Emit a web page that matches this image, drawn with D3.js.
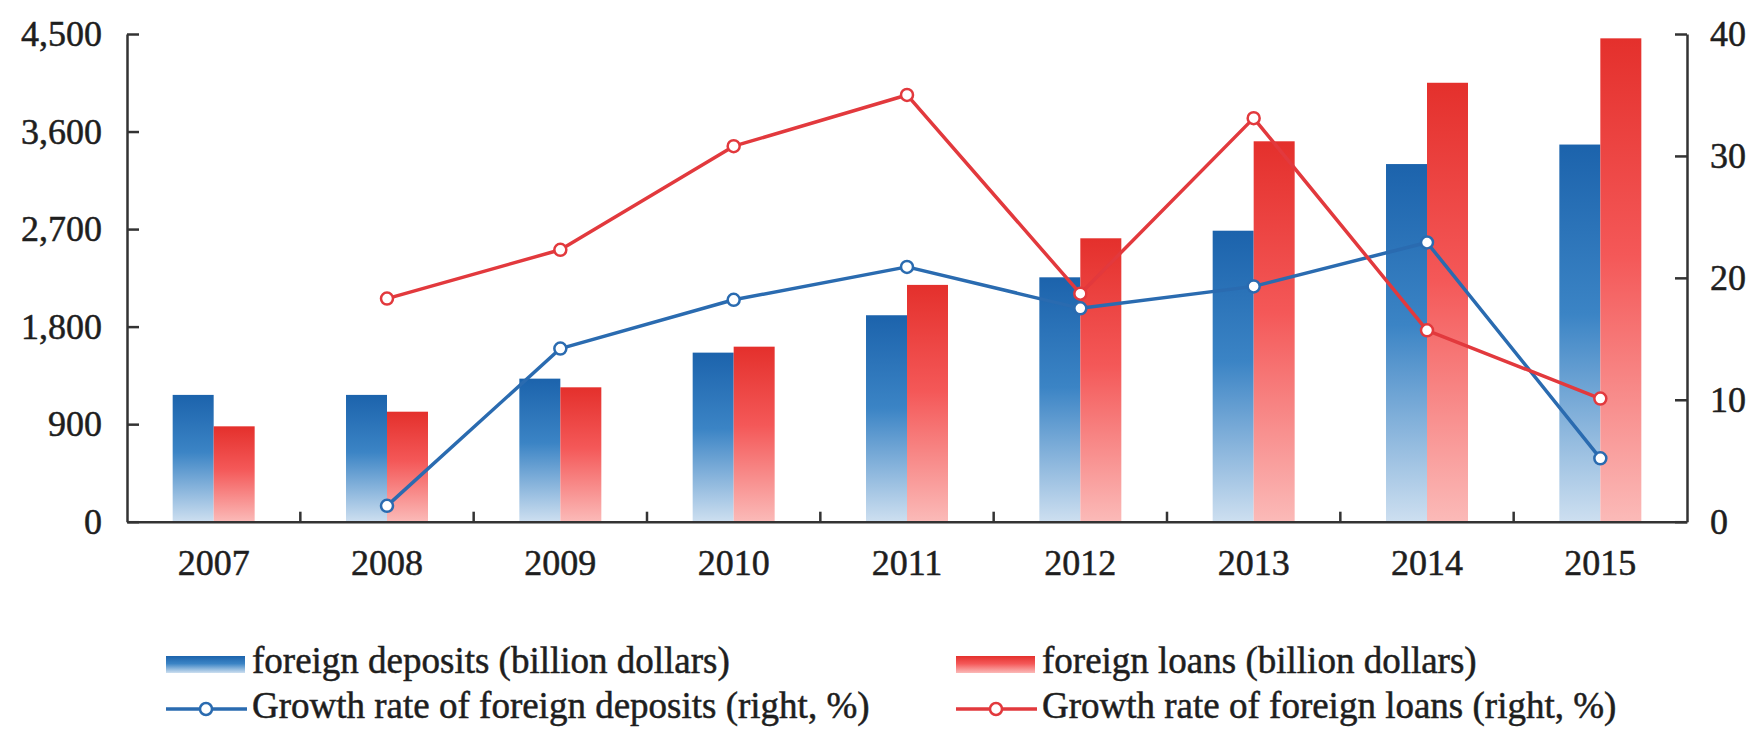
<!DOCTYPE html>
<head>
  <title>Foreign deposits and loans 2007 - 2015</title>
  <meta charset="utf-8">
  <script type="text/javascript" src="https://d3js.org/d3.v7.min.js"></script>
  <style>
    body { margin: 0; background: #fff; }
    text { font-family: "Liberation Serif", "Times New Roman", serif; fill: #1e1e1e; stroke: #1e1e1e; stroke-width: 0.5px; }
  </style>
</head>

<body>

<div id="container"></div>

<script>

  // chart data
  let years = ["2007", "2008", "2009", "2010", "2011", "2012", "2013", "2014", "2015"];
  let deposits = [1170, 1170, 1320, 1560, 1905, 2255, 2685, 3300, 3480];
  let loans = [880, 1015, 1240, 1615, 2185, 2615, 3510, 4050, 4460];
  let deposits_growth = [null, 1.3, 14.2, 18.2, 20.9, 17.5, 19.3, 22.9, 5.2];
  let loans_growth = [null, 18.3, 22.3, 30.8, 35.0, 18.7, 33.1, 15.7, 10.1];
  let left_ticks = [0, 900, 1800, 2700, 3600, 4500];
  let right_ticks = [0, 10, 20, 30, 40];
  let legend_labels = [
    "foreign deposits (billion dollars)",
    "foreign loans (billion dollars)",
    "Growth rate of foreign deposits (right, %)",
    "Growth rate of foreign loans (right, %)"
  ];

  let svg_width = 1754;
  let svg_height = 734;

  let plot = {left: 127, right: 1687, top: 34, bottom: 521.7};

  let blue_line = "#2a6bb0";
  let red_line = "#e2393d";
  let axis_color = "#333333";

  let svg = d3.select("#container").append("svg")
          .attr("width", svg_width)
          .attr("height", svg_height)

  // vertical gradients for the bars
  let defs = svg.append("defs");

  let make_gradient = function (id, stops) {
    let g = defs.append("linearGradient")
            .attr("id", id)
            .attr("x1", 0).attr("y1", 0)
            .attr("x2", 0).attr("y2", 1);
    stops.forEach(function (s) {
      g.append("stop").attr("offset", s[0]).attr("stop-color", s[1]);
    });
  }

  make_gradient("blueGrad", [["0%", "#1c63ac"], ["45%", "#3b84c5"], ["100%", "#cddff0"]]);
  make_gradient("redGrad", [["0%", "#e4302c"], ["45%", "#f45858"], ["100%", "#fbbab8"]]);

  let xScale = d3.scaleBand()
          .domain(years)
          .range([plot.left, plot.right])
          .paddingInner(0.527)
          .paddingOuter(0.2635);

  let xSub = d3.scaleBand()
          .domain(["deposits", "loans"])
          .range([0, xScale.bandwidth()]);

  let yLeft = d3.scaleLinear()
          .domain([0, 4500])
          .range([plot.bottom, plot.top]);

  let yRight = d3.scaleLinear()
          .domain([0, 40])
          .range([plot.bottom, plot.top]);

  // bars
  let bar_data = years.map(function (y, i) {
    return {year: y, deposits: deposits[i], loans: loans[i]};
  });

  let groups = svg.selectAll(".group")
          .data(bar_data)
          .enter()
          .append("g")
          .attr("class", "group")
          .attr("transform", function (d) { return "translate(" + xScale(d.year) + ",0)"; });

  groups.append("rect")
          .attr("x", xSub("deposits"))
          .attr("y", function (d) { return yLeft(d.deposits); })
          .attr("width", xSub.bandwidth())
          .attr("height", function (d) { return yLeft(0) - yLeft(d.deposits); })
          .attr("fill", "url(#blueGrad)");

  groups.append("rect")
          .attr("x", xSub("loans"))
          .attr("y", function (d) { return yLeft(d.loans); })
          .attr("width", xSub.bandwidth())
          .attr("height", function (d) { return yLeft(0) - yLeft(d.loans); })
          .attr("fill", "url(#redGrad)");

  // axes
  let left_axis = d3.axisLeft(yLeft)
          .tickValues(left_ticks)
          .tickFormat(d3.format(","))
          .tickSizeInner(-12)
          .tickSizeOuter(0)
          .tickPadding(25);

  let right_axis = d3.axisRight(yRight)
          .tickValues(right_ticks)
          .tickSizeInner(-12)
          .tickSizeOuter(0)
          .tickPadding(23);

  let bottom_axis = d3.axisBottom(xScale)
          .tickSize(0)
          .tickPadding(28);

  let style_axis = function (g) {
    g.select(".domain").attr("stroke", axis_color).attr("stroke-width", 2.5);
    g.selectAll(".tick line").attr("stroke", axis_color).attr("stroke-width", 2.5);
    g.selectAll(".tick text")
            .attr("fill", "#1e1e1e")
            .style("font-family", "'Liberation Serif', 'Times New Roman', serif")
            .style("font-size", "36px");
  }

  svg.append("g")
          .attr("transform", "translate(0," + plot.bottom + ")")
          .call(bottom_axis)
          .call(style_axis);

  svg.append("g")
          .attr("transform", "translate(" + plot.left + ",0)")
          .call(left_axis)
          .call(style_axis);

  svg.append("g")
          .attr("transform", "translate(" + plot.right + ",0)")
          .call(right_axis)
          .call(style_axis);

  // small category separators on the x axis
  let step = xScale.step();
  svg.selectAll(".sep")
          .data(years.slice(1))
          .enter()
          .append("line")
          .attr("class", "sep")
          .attr("x1", function (d) { return xScale(d) - step * xScale.paddingInner() / 2; })
          .attr("x2", function (d) { return xScale(d) - step * xScale.paddingInner() / 2; })
          .attr("y1", plot.bottom)
          .attr("y2", plot.bottom - 10)
          .attr("stroke", axis_color)
          .attr("stroke-width", 2.5);

  // growth lines on the right axis
  let center = function (i) { return xScale(years[i]) + xScale.bandwidth() / 2; };

  let draw_series = function (values, color) {
    let pts = values
            .map(function (v, i) { return {i: i, v: v}; })
            .filter(function (d) { return d.v !== null; });

    svg.append("path")
            .datum(pts)
            .attr("fill", "none")
            .attr("stroke", color)
            .attr("stroke-width", 3.5)
            .attr("stroke-linejoin", "round")
            .attr("d", d3.line()
                    .x(function (d) { return center(d.i); })
                    .y(function (d) { return yRight(d.v); })
            );

    svg.selectAll(null)
            .data(pts)
            .enter()
            .append("circle")
            .attr("cx", function (d) { return center(d.i); })
            .attr("cy", function (d) { return yRight(d.v); })
            .attr("r", 6)
            .attr("fill", "#ffffff")
            .attr("stroke", color)
            .attr("stroke-width", 2.5);
  }

  draw_series(deposits_growth, blue_line);
  draw_series(loans_growth, red_line);

  // legend
  let legend_text_x = [252, 1042];
  let legend_rows = [664, 709];

  let legend = svg.append("g").attr("class", "legend");

  [["url(#blueGrad)", 0], ["url(#redGrad)", 1]].forEach(function (s) {
    let tx = legend_text_x[s[1]];
    legend.append("rect")
            .attr("x", tx - 86)
            .attr("y", legend_rows[0] - 8)
            .attr("width", 79)
            .attr("height", 17)
            .attr("fill", s[0]);

    legend.append("text")
            .attr("x", tx)
            .attr("y", legend_rows[0] + 9)
            .style("font-size", "37px")
            .text(legend_labels[s[1]]);
  });

  [[blue_line, 0], [red_line, 1]].forEach(function (s) {
    let tx = legend_text_x[s[1]];
    legend.append("line")
            .attr("x1", tx - 86)
            .attr("x2", tx - 5)
            .attr("y1", legend_rows[1])
            .attr("y2", legend_rows[1])
            .attr("stroke", s[0])
            .attr("stroke-width", 3.5);

    legend.append("circle")
            .attr("cx", tx - 46)
            .attr("cy", legend_rows[1])
            .attr("r", 6)
            .attr("fill", "#ffffff")
            .attr("stroke", s[0])
            .attr("stroke-width", 2.5);

    legend.append("text")
            .attr("x", tx)
            .attr("y", legend_rows[1] + 9)
            .style("font-size", "37px")
            .text(legend_labels[s[1] + 2]);
  });

</script>

</body>
